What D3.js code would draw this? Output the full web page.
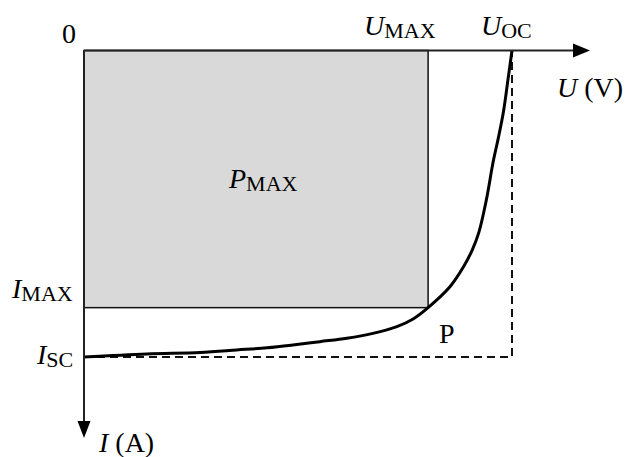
<!DOCTYPE html>
<html>
<head>
<meta charset="utf-8">
<script src="https://cdn.jsdelivr.net/npm/d3@7"></script>
<style>
  html, body { margin: 0; padding: 0; background: #fff; }
  svg { display: block; font-family: "Liberation Serif", "Times New Roman", serif; }
</style>
</head>
<body>
<svg id="chart" width="634" height="457"></svg>
<script>
// I–U characteristic of a solar cell, in % of U_OC and % of I_SC
const voltage = [0, 14.7, 27.1, 35.7, 42.8, 48.8, 55.1, 61.4, 67.5, 73.1, 76.9, 80.4, 85.5, 88.7, 90.7, 92.2, 94.0, 95.6, 96.8, 98.0, 99.1, 100];
const current = [100, 99.0, 98.5, 97.7, 97.0, 96.1, 95.0, 93.9, 92.3, 90.1, 87.6, 83.9, 77.1, 70.5, 65.1, 59.6, 48.8, 36.3, 28.6, 20.0, 9.1, 0];
// maximum power point
const uMax = 80.4;
const iMax = 83.9;
// open-circuit voltage and short-circuit current
const uOC = 100;
const iSC = 100;

const svg = d3.select("#chart");

// U runs to the right, I runs downward from the origin
const x = d3.scaleLinear().domain([0, 100]).range([84, 512]);
const y = d3.scaleLinear().domain([0, 100]).range([50.5, 357]);

// maximum power rectangle
svg.append("rect")
  .attr("x", x(0)).attr("y", y(0))
  .attr("width", x(uMax) - x(0)).attr("height", y(iMax) - y(0))
  .attr("fill", "#d9d9d9")
  .attr("stroke", "#111").attr("stroke-width", 1.5);

// dashed U_OC × I_SC bounding lines
svg.append("path")
  .attr("d", `M${x(0)},${y(iSC)} H${x(uOC)} V${y(0)}`)
  .attr("fill", "none")
  .attr("stroke", "#111").attr("stroke-width", 2)
  .attr("stroke-dasharray", "8,5");

// I–U curve
const line = d3.line()
  .x((d, i) => x(voltage[i]))
  .y((d, i) => y(current[i]))
  .curve(d3.curveCatmullRom.alpha(0.5));
svg.append("path")
  .datum(voltage)
  .attr("d", line)
  .attr("fill", "none")
  .attr("stroke", "#000").attr("stroke-width", 3)
  .attr("stroke-linejoin", "round");

// axes with arrowheads
const axisColor = "#222";
svg.append("line")
  .attr("x1", x(0)).attr("y1", y(0)).attr("x2", 578).attr("y2", y(0))
  .attr("stroke", axisColor).attr("stroke-width", 2);
svg.append("path")
  .attr("d", `M590,${y(0)} L573,${y(0) - 7} L573,${y(0) + 7} Z`)
  .attr("fill", "#000");
svg.append("line")
  .attr("x1", x(0)).attr("y1", y(0)).attr("x2", x(0)).attr("y2", 426)
  .attr("stroke", axisColor).attr("stroke-width", 2);
svg.append("path")
  .attr("d", `M${x(0)},438 L${x(0) - 6.5},421 L${x(0) + 6.5},421 Z`)
  .attr("fill", "#000");

// labels: main symbol (italic), subscript, plain suffix
const labels = [
  { main: "0", sub: "", rest: "", x: 62, y: 43, italic: false },
  { main: "U", sub: "MAX", rest: "", x: 364, y: 35, italic: true },
  { main: "U", sub: "OC", rest: "", x: 481, y: 35, italic: true },
  { main: "U", sub: "", rest: " (V)", x: 557, y: 97, italic: true },
  { main: "I", sub: "MAX", rest: "", x: 12, y: 298, italic: true },
  { main: "I", sub: "SC", rest: "", x: 37, y: 364, italic: true },
  { main: "I", sub: "", rest: " (A)", x: 99, y: 452, italic: true },
  { main: "P", sub: "MAX", rest: "", x: 229, y: 188, italic: true },
  { main: "P", sub: "", rest: "", x: 439, y: 343, italic: false }
];

labels.forEach(l => {
  const t = svg.append("text")
    .attr("x", l.x).attr("y", l.y)
    .attr("font-size", 28).attr("fill", "#000");
  t.append("tspan")
    .attr("font-style", l.italic ? "italic" : "normal")
    .text(l.main);
  if (l.sub) {
    t.append("tspan")
      .attr("font-size", 22).attr("dy", 3)
      .text(l.sub);
  }
  if (l.rest) {
    t.append("tspan").text(l.rest);
  }
});
</script>
</body>
</html>
